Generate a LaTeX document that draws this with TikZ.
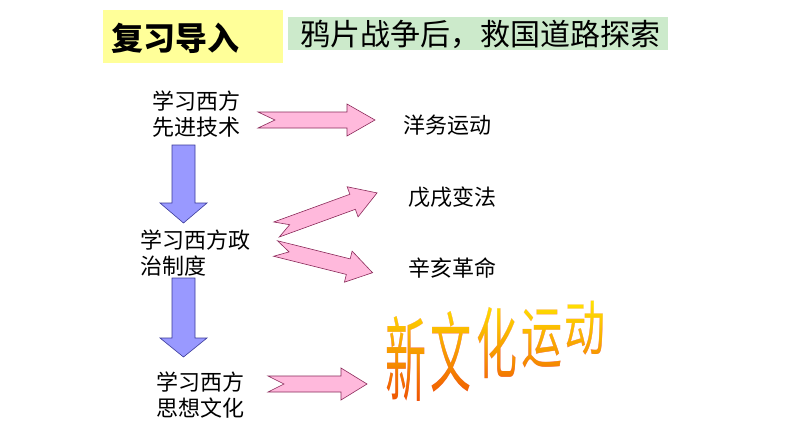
\documentclass[tikz,border=0pt]{standalone}
\usepackage{fontspec}
\setmainfont{Noto Sans CJK SC}
\definecolor{hdyellow}{HTML}{FFFF99}
\definecolor{hdgreen}{HTML}{CCEACB}
\definecolor{pinkfill}{HTML}{FFB9DC}
\definecolor{pinkline}{HTML}{8A2A5A}
\definecolor{bluefill}{HTML}{9999FF}
\definecolor{blueline}{HTML}{3A3A9A}
\definecolor{waTop}{HTML}{FFE800}
\definecolor{waBot}{HTML}{EE4A00}
\newcommand\notcharrow[5]{% position, angle, length, head length, notch
  \begin{scope}[shift={#1}, rotate=#2]
    \draw[pinkarrow] (0,-8) -- ({#3-#4},-8) -- ({#3-#4},-16) -- (#3,0)
      -- ({#3-#4},16) -- ({#3-#4},8) -- (0,8) -- (#5,0) -- cycle;
  \end{scope}}
\begin{document}
\begin{tikzpicture}[x=1pt,y=-1pt,
  pinkarrow/.style={fill=pinkfill, draw=pinkline, line width=0.6pt, line join=miter},
  bluearrow/.style={fill=bluefill, draw=blueline, line width=0.6pt, line join=miter},
  label/.style={font=\fontsize{22}{26}\selectfont, inner sep=0pt, align=center},
  wordart/.style={font=\fontsize{50}{50}\selectfont, inner sep=0pt, text=waBot, xscale=0.82}]
\useasboundingbox (0,0) rectangle (794,447);
\fill[white] (0,0) rectangle (794,447);
% header
\fill[hdyellow] (103,10) rectangle (283,63);
\node[font=\fontsize{32}{32}\selectfont\bfseries, inner sep=0pt] (title) at (175,38) {复习导入};
\fill[hdgreen] (288,17) rectangle (668,50);
\node[font=\fontsize{30}{30}\selectfont, inner sep=0pt] (subtitle) at (480,34) {鸦片战争后，救国道路探索};
% left column
\node[label] (tech) at (196,114) {学习西方\\先进技术};
\node[label, align=left, anchor=west] (pol) at (140,253) {学习西方政\\治制度};
\node[label] (cult) at (200,395) {学习西方\\思想文化};
% right column
\node[label] (yangwu) at (447,125) {洋务运动};
\node[label] (wuxu) at (452,197) {戊戌变法};
\node[label] (xinhai) at (452,268) {辛亥革命};
% blue down arrows
\draw[bluearrow] (172,145) -- (195,145) -- (195,203) -- (207,203) -- (183.5,223)
  -- (160,203) -- (172,203) -- cycle;
\draw[bluearrow] (172,278) -- (195,278) -- (195,338) -- (207,338) -- (183.5,357)
  -- (160,338) -- (172,338) -- cycle;
% pink arrows
\notcharrow{(258,120)}{0}{117}{28}{17}
\notcharrow{(276.5,229.5)}{20}{107}{26}{14}
\notcharrow{(275.5,248.5)}{-14}{100}{25}{14}
\notcharrow{(268,384)}{0}{99}{26}{16}
% word art
\node[wordart, yscale=1.85] (wa1) at (406,359) {新};
\node[wordart, yscale=1.75] (wa2) at (451,352) {文};
\node[wordart, yscale=1.55] (wa3) at (497,343) {化};
\node[wordart, yscale=1.35] (wa4) at (542,339) {运};
\node[wordart, yscale=1.2] (wa5) at (585,328) {动};
\shade[blend mode=lighten, top color=waTop, bottom color=waBot]
  (375,298) rectangle (620,408);
\end{tikzpicture}
\end{document}
